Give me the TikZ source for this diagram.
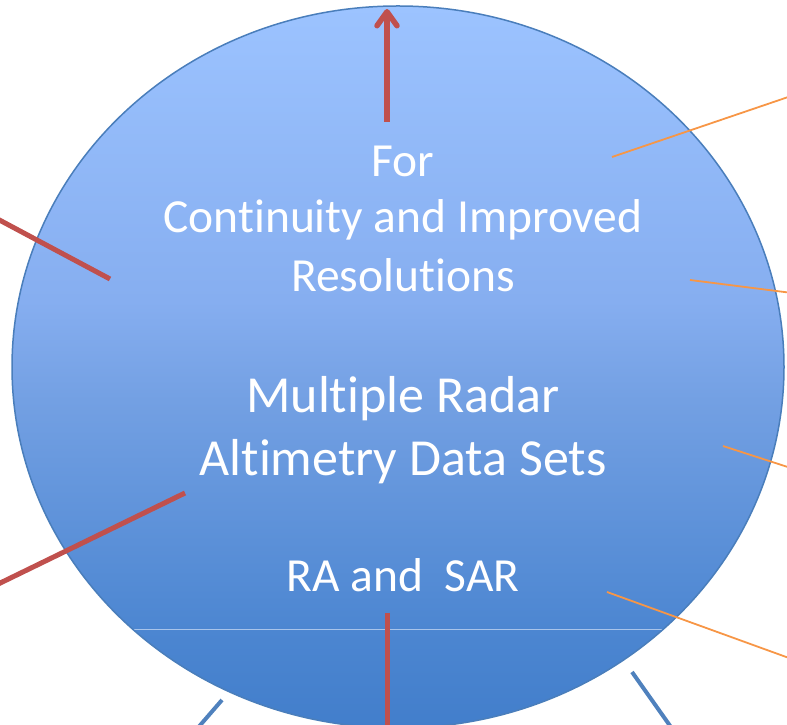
\documentclass[tikz,border=0pt]{standalone}
\usepackage{fontspec}
\setmainfont{Carlito}[Ligatures={NoCommon}]
\usetikzlibrary{arrows.meta}
\definecolor{cTop}{HTML}{9CC3FF}
\definecolor{cUp}{HTML}{86AEF0}
\definecolor{cMid}{HTML}{73A0E3}
\definecolor{cLow}{HTML}{4C86D1}
\definecolor{cBot}{HTML}{427ECB}
\definecolor{edgeblue}{HTML}{4A7EBB}
\definecolor{redline}{HTML}{C0504D}
\definecolor{orangeline}{HTML}{F79646}
\definecolor{blueline}{HTML}{4F81BD}
\definecolor{bandline}{HTML}{A8C4EA}
\pgfdeclareverticalshading{circshade}{100bp}{color(0bp)=(cBot); color(25bp)=(cBot); color(31.8bp)=(cLow); color(47.7bp)=(cMid); color(54.6bp)=(cUp); color(75bp)=(cTop); color(100bp)=(cTop)}
\tikzset{
  redbar/.style={draw=redline, line width=5pt},
  orangebar/.style={draw=orangeline, line width=1.8pt},
  bluebar/.style={draw=blueline, line width=4pt},
  txtA/.style={text=white, font=\fontsize{47.5}{57}\selectfont, anchor=base, inner sep=0pt},
  txtB/.style={text=white, font=\fontsize{52}{62}\selectfont, anchor=base, inner sep=0pt}
}
\begin{document}
\begin{tikzpicture}[x=1pt,y=1pt]
\useasboundingbox (0,0) rectangle (787,725);
\clip (0,0) rectangle (787,725);
% circle
\path[shading=circshade] (398,358) ellipse [x radius=386, y radius=361];
\begin{scope}
\clip (398,358) ellipse [x radius=386, y radius=361];
\coordinate (bandL) at (0,95);
\coordinate (bandR) at (787,95);
\draw[bandline, line width=1pt] (bandL) -- (bandR);
\end{scope}
\draw[edgeblue, line width=1.5pt] (398,358) ellipse [x radius=386, y radius=361];
% coordinates of connectors
\coordinate (o1a) at (612,568); \coordinate (o1b) at (800,632);
\coordinate (o2a) at (690,445); \coordinate (o2b) at (800,431);
\coordinate (o3a) at (723,279); \coordinate (o3b) at (800,254);
\coordinate (o4a) at (607,133); \coordinate (o4b) at (800,63);
\coordinate (r1a) at (110,446); \coordinate (r1b) at (-10,510);
\coordinate (r2a) at (185,232); \coordinate (r2b) at (-10,137);
\coordinate (r3a) at (387,112); \coordinate (r3b) at (387,-5);
\coordinate (arA) at (387,603); \coordinate (arB) at (387,716);
\coordinate (b1a) at (222,25); \coordinate (b1b) at (196,-5);
\coordinate (b2a) at (632,53); \coordinate (b2b) at (673,-5);
% orange lines
\draw[orangebar] (o1a) -- (o1b);
\draw[orangebar] (o2a) -- (o2b);
\draw[orangebar] (o3a) -- (o3b);
\draw[orangebar] (o4a) -- (o4b);
% red lines
\draw[redbar] (r1a) -- (r1b);
\draw[redbar] (r2a) -- (r2b);
\draw[redbar] (r3a) -- (r3b);
\draw[redbar, line width=5.5pt, -{Straight Barb[length=14pt,width=20pt,line cap=round,line join=round]}] (arA) -- (arB);
% blue lines
\draw[bluebar] (b1a) -- (b1b);
\draw[bluebar] (b2a) -- (b2b);
% texts
\node[txtA] (t1) at (403,548) {For};
\node[txtA] (t2) at (403,492) {Continuity and Improved};
\node[txtA] (t3) at (403,433) {Resolutions};
\node[txtB] (t4) at (403,312) {Multiple Radar};
\node[txtB] (t5) at (403,249) {Altimetry Data Sets};
\node[txtA] (t6) at (403,133) {RA and\ \ SAR};
\end{tikzpicture}
\end{document}
